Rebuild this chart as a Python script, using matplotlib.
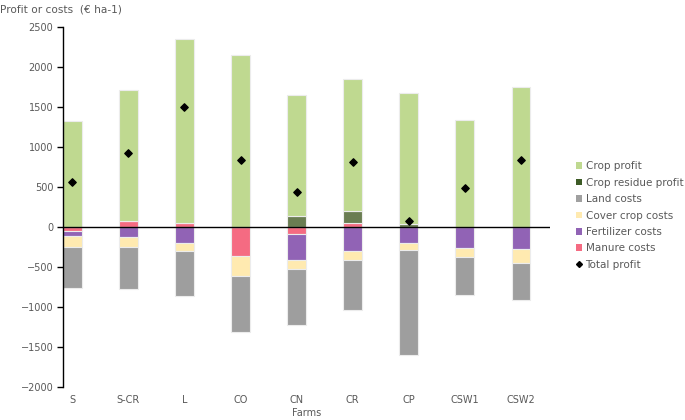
import matplotlib
matplotlib.use("Agg")
import matplotlib.pyplot as plt
from matplotlib.patches import Patch
from matplotlib.lines import Line2D
import numpy as np

# values (EUR per ha)
farms = ['S', 'S-CR', 'L', 'CO', 'CN', 'CR', 'CP', 'CSW1', 'CSW2']
manure_costs = [-45, 79, 45, -367, -88, 50, 0, 0, -5]
fertilizer_costs = [-63, -121, -196, 0, -325, -296, -196, -263, -267]
cover_crop_costs = [-138, -125, -104, -250, -117, -117, -87, -112, -175]
land_costs = [-516, -534, -563, -696, -691, -625, -1317, -475, -466]
crop_residue_profit = [0, 0, 0, 0, 141, 154, 33, 0, 0]
crop_profit = [1330, 1633, 2305, 2154, 1509, 1650, 1646, 1341, 1746]
total_profit = [566, 929, 1495, 841, 433, 816, 79, 491, 837]

# stacking order as in the spreadsheet (first series next to zero)
series = [
    ('Manure costs', manure_costs, '#f56b82'),
    ('Fertilizer costs', fertilizer_costs, '#9163b5'),
    ('Cover crop costs', cover_crop_costs, '#ffeab0'),
    ('Land costs', land_costs, '#9e9e9e'),
    ('Crop residue profit', crop_residue_profit, '#6a7d52'),
    ('Crop profit', crop_profit, '#bfd990'),
]
legend_order = ['Crop profit', 'Crop residue profit', 'Land costs',
                'Cover crop costs', 'Fertilizer costs', 'Manure costs']
legend_colors = {'Crop residue profit': '#3d5b26', 'Land costs': '#a0a0a0'}

txt = '#595959'
plt.rcParams['font.family'] = 'DejaVu Sans'
plt.rcParams['font.size'] = 7

fig = plt.figure(figsize=(6.85, 4.2), dpi=100)
ax = fig.add_axes([0.092, 0.0786, 0.711, 0.857])

x = np.arange(len(farms))
width = 0.333
pos_bottom = np.zeros(len(farms))
neg_bottom = np.zeros(len(farms))
for name, vals, col in series:
    v = np.array(vals, dtype=float)
    b = np.where(v >= 0, pos_bottom, neg_bottom)
    ax.bar(x, v, width, bottom=b, color=col, edgecolor='#ececec',
           linewidth=0.8, zorder=2)
    pos_bottom += np.where(v > 0, v, 0)
    neg_bottom += np.where(v < 0, v, 0)

ax.scatter(x, total_profit, marker='D', s=14, color='black', zorder=4)

ax.axhline(0, color='black', linewidth=1.0, zorder=3)
ax.set_xlim(-width / 2, 8.52)
ax.set_ylim(-2000, 2500)
ax.set_yticks(np.arange(-2000, 2501, 500))
ax.set_xticks(x)
ax.set_xticklabels(farms)
ax.tick_params(axis='x', length=0, pad=6, colors=txt)
ax.tick_params(axis='y', length=4, width=1, colors='black', labelcolor=txt,
               pad=3)
for s in ['top', 'right', 'bottom']:
    ax.spines[s].set_visible(False)
ax.spines['left'].set_color('black')
ax.spines['left'].set_linewidth(1.0)

ax.set_xlabel('Farms', color=txt, labelpad=2)
fig.text(0.0, 1 - 9 / 420, 'Profit or costs  (\u20ac ha-1)', color=txt,
         va='center', ha='left', fontsize=7.6)

colors = {n: c for n, _, c in series}
handles = [Patch(facecolor=legend_colors.get(n, colors[n]), edgecolor='none')
           for n in legend_order]
handles.append(Line2D([], [], marker='D', color='black', linestyle='none',
                      markersize=3))
labels = legend_order + ['Total profit']
leg = fig.legend(handles, labels, loc='upper left',
                 bbox_to_anchor=(572 / 685, 1 - 157 / 420), frameon=False,
                 handlelength=0.6, handleheight=0.6, handletextpad=0.3,
                 labelspacing=0.62, fontsize=7.5, borderaxespad=0)
for t in leg.get_texts():
    t.set_color(txt)

fig.savefig('out.png', dpi=100)
